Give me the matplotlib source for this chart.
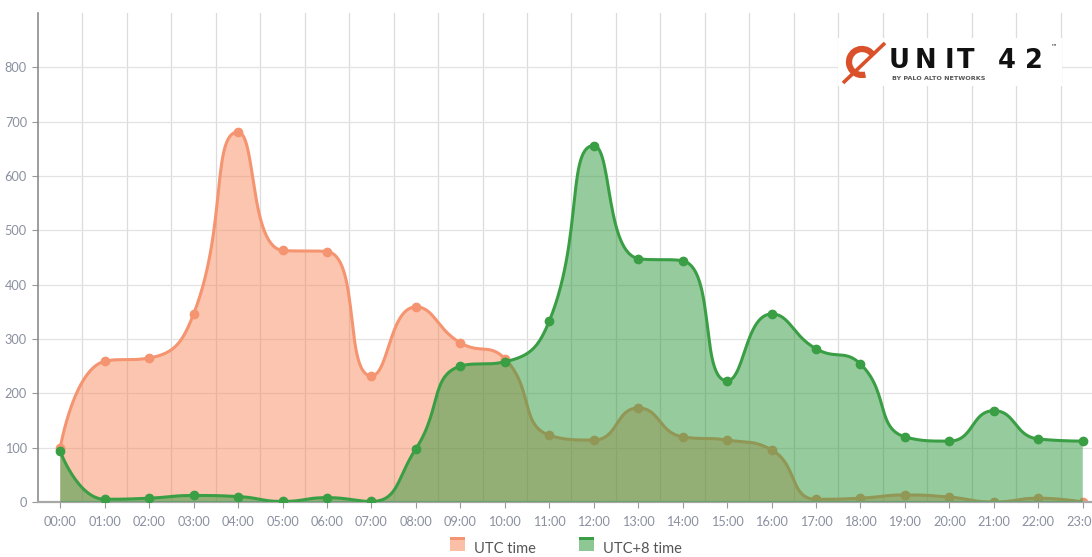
import numpy as np
import matplotlib
matplotlib.use("Agg")
import matplotlib.pyplot as plt
from matplotlib.patches import Patch, Rectangle, Arc
from matplotlib.legend_handler import HandlerBase

hours = ["%02d:00" % h for h in range(24)]
utc_time = [100, 259, 265, 346, 681, 463, 461, 232, 359, 293, 264, 123,
            114, 173, 120, 114, 96, 5, 7, 13, 9, 0, 7, 0]
utc8_time = [93, 5, 7, 12, 10, 1, 8, 1, 98, 250, 258, 333,
             656, 448, 444, 223, 346, 282, 254, 120, 112, 168, 116, 112]
y_ticks = [0, 100, 200, 300, 400, 500, 600, 700, 800]

# pixel scale used for the curve smoothing (px per hour, px per unit)
SX, SY = 44.5, 0.543


def smooth_curve(xs, ys, smooth=0.5, n=30):
    # cubic bezier smoothing with control points clamped between neighbours
    px = np.asarray(xs, float) * SX
    py = np.asarray(ys, float) * SY
    out_x, out_y = [px[0]], [py[0]]
    cp0x, cp0y = px[0], py[0]
    for i in range(1, len(px)):
        x, y = px[i], py[i]
        prx, pry = px[i - 1], py[i - 1]
        if i + 1 >= len(px):
            cp1x, cp1y = x, y
            ncx, ncy = x, y
        else:
            nx, ny = px[i + 1], py[i + 1]
            vx, vy = nx - prx, ny - pry
            lp = np.hypot(x - prx, y - pry)
            ln = np.hypot(nx - x, ny - y)
            r = ln / (ln + lp)
            ncx = x + vx * smooth * r
            ncy = y + vy * smooth * r
            ncx = max(min(ncx, max(nx, x)), min(nx, x))
            ncy = max(min(ncy, max(ny, y)), min(ny, y))
            vx, vy = ncx - x, ncy - y
            cp1x = x - vx * lp / ln
            cp1y = y - vy * lp / ln
            cp1x = max(min(cp1x, max(prx, x)), min(prx, x))
            cp1y = max(min(cp1y, max(pry, y)), min(pry, y))
            vx, vy = x - cp1x, y - cp1y
            ncx = x + vx * ln / lp
            ncy = y + vy * ln / lp
        t = np.linspace(0, 1, n)[1:]
        a, b, c, d = (1 - t) ** 3, 3 * (1 - t) ** 2 * t, 3 * (1 - t) * t ** 2, t ** 3
        out_x.extend(a * prx + b * cp0x + c * cp1x + d * x)
        out_y.extend(a * pry + b * cp0y + c * cp1y + d * y)
        cp0x, cp0y = ncx, ncy
    return np.array(out_x) / SX, np.array(out_y) / SY


class AreaHandler(HandlerBase):
    # filled square with a darker strip on top, like the area legend icon
    def create_artists(self, legend, orig, xd, yd, width, height, fontsize, trans):
        body = Rectangle((xd, yd), width, height, facecolor=orig.get_facecolor(),
                         edgecolor='none', transform=trans)
        top = Rectangle((xd, yd + height * 0.78), width, height * 0.22,
                        facecolor=orig.line_color, edgecolor='none', transform=trans)
        return [body, top]


plt.rcParams['font.family'] = ['Lato', 'DejaVu Sans']

fig = plt.figure(figsize=(10.92, 5.57), dpi=100)
ax = fig.add_axes([38 / 1092, 55 / 557, (1105 - 38) / 1092, (502 - 13) / 557])

x = np.arange(len(hours))

series = [
    (utc_time, "UTC time", "#f59470", "#f7804f", 0.45),
    (utc8_time, "UTC+8 time", "#3a9e45", "#2e9a3c", 0.5),
]
handles = []
for k, (vals, label, lc, fc, alpha) in enumerate(series):
    z = 2 + k
    sx, sy = smooth_curve(x, vals)
    ax.fill(np.r_[sx, sx[-1], sx[0]], np.r_[sy, 0, 0], color=fc, alpha=alpha,
            lw=0, zorder=z)
    ax.plot(sx, sy, color=lc, lw=2.2, zorder=z + 0.1, solid_capstyle='round')
    ax.plot(x, vals, 'o', color=lc, ms=6, zorder=z + 0.2)
    h = Patch(facecolor=fc, alpha=alpha + 0.05, edgecolor='none', label=label)
    h.line_color = lc
    handles.append(h)

ax.set_xlim(-0.5, 23.5)
ax.set_ylim(0, 900)
ax.set_xticks(x)
ax.set_xticklabels(hours)
ax.set_yticks(y_ticks)
ax.set_xticks(x[:-1] + 0.5, minor=True)
ax.grid(True, axis='y', color='#e3e3e3', lw=0.9, zorder=0)
ax.grid(True, axis='x', which='minor', color='#dcdcdc', lw=0.9, zorder=0)
ax.grid(False, axis='x', which='major')
ax.tick_params(axis='x', which='minor', length=0)
ax.tick_params(axis='both', which='major', labelsize=9.2, labelcolor='#8a90a0',
               color='#999999', length=4)
ax.tick_params(axis='x', pad=6)
ax.tick_params(axis='y', pad=4)
for s in ['top', 'right']:
    ax.spines[s].set_visible(False)
ax.spines['left'].set_color('#8c8c8c')
ax.spines['left'].set_linewidth(1.2)
ax.spines['bottom'].set_color('#a8a8a8')
ax.spines['bottom'].set_linewidth(1.6)
ax.set_axisbelow(True)

fig.legend(handles=handles, loc='center', bbox_to_anchor=(566 / 1092, 8.5 / 557),
           ncol=2, frameon=False, fontsize=10.5, handlelength=1.0, handleheight=1.1,
           columnspacing=3.0, handletextpad=0.6, labelcolor='#555555',
           handler_map={Patch: AreaHandler()})

# logo
lg = fig.add_axes([838 / 1092, (557 - 86) / 557, 224 / 1092, 48 / 557])
lg.set_xlim(838, 1062)
lg.set_ylim(86, 38)
lg.axis('off')
lg.add_patch(Rectangle((838, 38), 224, 48, facecolor='white', edgecolor='none'))
red = '#d9502b'
lg.add_patch(Arc((862, 62), 26, 26, theta1=75, theta2=330, color=red, lw=4.5))
lg.plot([843, 885], [83, 43], color=red, lw=2.6, solid_capstyle='butt')
for ch, cx in zip("UNIT42", [889, 915, 945, 957, 998, 1025]):
    lg.text(cx, 67.5, ch, fontsize=18.5, fontweight='bold', color='#111111',
            family='DejaVu Sans', ha='left', va='baseline')
lg.text(1050, 49, "™", fontsize=4.5, color='#111111', family='DejaVu Sans')
lg.text(892, 80, "BY PALO ALTO NETWORKS", fontsize=4.6, fontweight='bold',
        color='#555555', family='DejaVu Sans', ha='left', va='baseline')

fig.savefig("out.png", dpi=100)
